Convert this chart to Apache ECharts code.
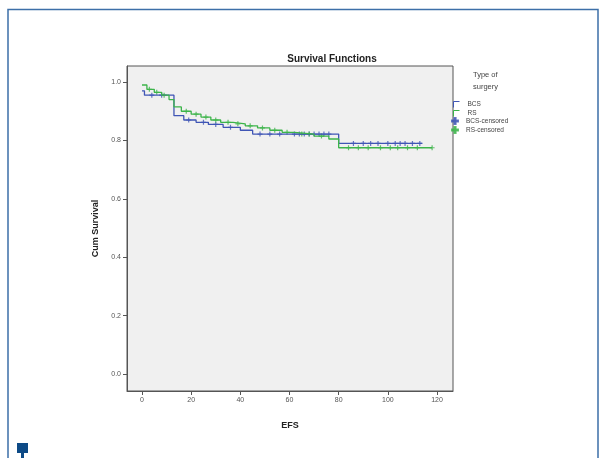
<!DOCTYPE html>
<html>
<head>
<meta charset="utf-8">
<script src="https://cdn.jsdelivr.net/npm/echarts@6/dist/echarts.min.js"></script>
<style>
  html, body { margin: 0; padding: 0; background: #fff; }
  #main { width: 603px; height: 458px; }
</style>
</head>
<body>
<div id="main"></div>
<script>
  // Kaplan-Meier steps (time, survival after event)
  const bcsTime = [0, 1, 13, 17, 22, 27, 33, 40, 45, 80, 114];
  const bcsSurv = [0.97, 0.955, 0.885, 0.87, 0.862, 0.855, 0.845, 0.835, 0.822, 0.79, 0.79];
  const rsTime = [0, 2, 5, 8, 11, 13, 16, 20, 24, 28, 32, 37, 42, 47, 52, 57, 62, 70, 76, 80, 118];
  const rsSurv = [0.99, 0.975, 0.965, 0.955, 0.94, 0.915, 0.9, 0.89, 0.88, 0.87, 0.862, 0.857, 0.85, 0.843, 0.835, 0.828, 0.822, 0.815, 0.805, 0.775, 0.775];

  // censored observations
  const bcsCensTime = [4, 8, 19, 25, 30, 36, 48, 52, 56, 62, 64, 66, 68, 70, 72, 74, 76, 86, 90, 93, 96, 100, 103, 105, 107, 110, 113];
  const rsCensTime = [3, 6, 9, 18, 22, 26, 30, 35, 39, 44, 49, 54, 59, 65, 68, 73, 84, 88, 92, 97, 101, 104, 108, 112, 118];

  const xTicks = [0, 20, 40, 60, 80, 100, 120];
  const yTicks = [0, 0.2, 0.4, 0.6, 0.8, 1.0];
  const legendNames = ['BCS', 'RS', 'BCS-censored', 'RS-censored'];

  function survAt(times, surv, t) {
    let s = surv[0];
    for (let i = 0; i < times.length; i++) {
      if (times[i] <= t) s = surv[i];
    }
    return s;
  }

  var chartDom = document.getElementById('main');
  var myChart = echarts.init(chartDom);

  const blue = '#3f55b5';
  const green = '#3cb44a';
  const censSym = 'path://M5,0L5,10M0,5L10,5';
  const plusSym = 'path://M4,0H6V4H10V6H6V10H4V6H0V4H4Z';
  const stepSym = 'path://M0,10L0,0L10,0';
  const legendTxt = { fontFamily: 'Liberation Sans', fontSize: 6.5, color: '#444' };
  const legendIcon = [
    { icon: stepSym, itemStyle: { color: 'none', borderColor: blue, borderWidth: 1 }, lineStyle: { color: blue, width: 1 } },
    { icon: stepSym, itemStyle: { color: 'none', borderColor: green, borderWidth: 1 }, lineStyle: { color: green, width: 1 } },
    { icon: plusSym },
    { icon: plusSym }
  ];

  // one legend per row so the rows sit at fixed 9px steps
  const legends = legendNames.map((name, i) => ({
    left: 451,
    top: 99 + i * 9,
    itemWidth: 12,
    itemHeight: 6,
    padding: 0,
    textStyle: legendTxt,
    data: [Object.assign({ name: name }, legendIcon[i])]
  }));

  var option = {
    animation: false,
    title: {
      text: 'Survival Functions',
      left: 327,
      top: 49,
      textAlign: 'center',
      textStyle: { fontFamily: 'Liberation Sans', fontSize: 10, fontWeight: 'bold', color: '#222' }
    },
    legend: legends,
    graphic: [
      { type: 'polyline', shape: { points: [[8, 458], [8, 9.5], [598, 9.5], [598, 458]] }, style: { stroke: '#3d6fa8', lineWidth: 1.5, fill: null } },
      { type: 'rect', shape: { x: 17, y: 443, width: 11, height: 10 }, style: { fill: '#0d4a86' } },
      { type: 'rect', shape: { x: 21, y: 453, width: 3, height: 5 }, style: { fill: '#0d4a86' } },
      { type: 'text', left: 473, top: 69, style: { text: 'Type of\nsurgery', fontFamily: 'Liberation Sans', fontSize: 7.5, lineHeight: 12, fill: '#444' } }
    ],
    grid: {
      left: 127,
      top: 66,
      width: 326,
      height: 325,
      show: true,
      backgroundColor: '#f0f0f0',
      borderColor: '#555',
      borderWidth: 1
    },
    xAxis: {
      type: 'value',
      min: -6.1,
      max: 126.5,
      name: 'EFS',
      nameLocation: 'middle',
      nameGap: 30,
      nameTextStyle: { fontFamily: 'Liberation Sans', fontSize: 9, fontWeight: 'bold', color: '#222' },
      splitLine: { show: false },
      axisLine: { show: true, onZero: false, lineStyle: { color: '#555' } },
      axisTick: { show: true, length: 4, lineStyle: { color: '#555' }, customValues: xTicks },
      axisLabel: { fontFamily: 'Liberation Sans', fontSize: 7, color: '#555', margin: 6, customValues: xTicks }
    },
    yAxis: {
      type: 'value',
      min: -0.058,
      max: 1.055,
      name: 'Cum Survival',
      nameLocation: 'middle',
      nameGap: 27,
      nameTextStyle: { fontFamily: 'Liberation Sans', fontSize: 9, fontWeight: 'bold', color: '#222' },
      splitLine: { show: false },
      axisLine: { show: true, onZero: false, lineStyle: { color: '#555' } },
      axisTick: { show: true, length: 4, lineStyle: { color: '#555' }, customValues: yTicks },
      axisLabel: {
        fontFamily: 'Liberation Sans', fontSize: 7, color: '#555', margin: 6,
        customValues: yTicks,
        formatter: function (v) { return v.toFixed(1); }
      }
    },
    series: [
      {
        name: 'BCS',
        type: 'line',
        step: 'end',
        showSymbol: false,
        lineStyle: { color: blue, width: 1.3 },
        itemStyle: { color: blue },
        data: bcsTime.map((t, i) => [t, bcsSurv[i]])
      },
      {
        name: 'RS',
        type: 'line',
        step: 'end',
        showSymbol: false,
        lineStyle: { color: green, width: 1.3 },
        itemStyle: { color: green },
        data: rsTime.map((t, i) => [t, rsSurv[i]])
      },
      {
        name: 'BCS-censored',
        type: 'scatter',
        symbol: censSym,
        symbolSize: 5,
        itemStyle: { color: blue, borderColor: blue, borderWidth: 1.2 },
        data: bcsCensTime.map((t) => [t, survAt(bcsTime, bcsSurv, t)])
      },
      {
        name: 'RS-censored',
        type: 'scatter',
        symbol: censSym,
        symbolSize: 5,
        itemStyle: { color: green, borderColor: green, borderWidth: 1.2 },
        data: rsCensTime.map((t) => [t, survAt(rsTime, rsSurv, t)])
      }
    ]
  };

  option && myChart.setOption(option);

  window.addEventListener('resize', () => {
    myChart.resize();
  });
</script>
</body>
</html>
